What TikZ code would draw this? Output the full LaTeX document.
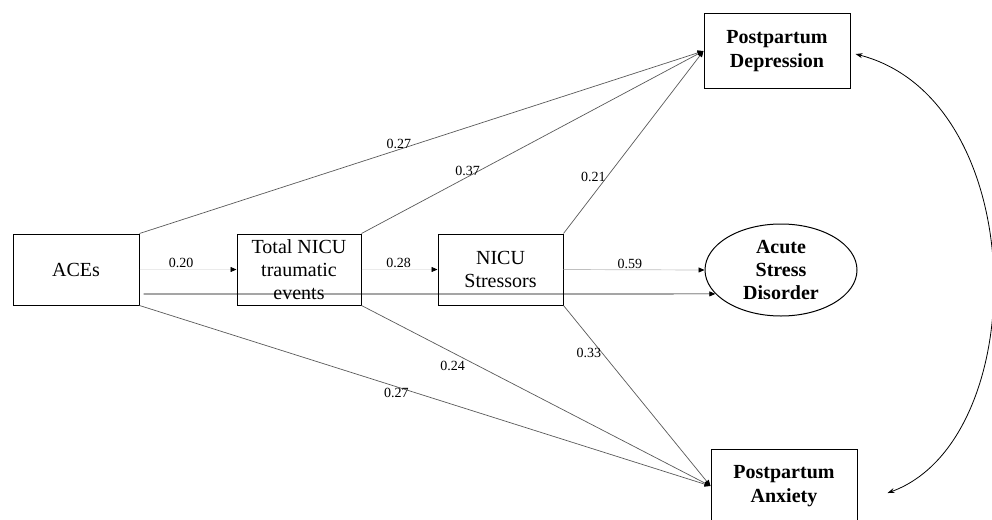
\documentclass[tikz,border=0pt]{standalone}
\usepackage{fontspec}
\setmainfont{Liberation Serif}
\usepackage{tikz}
\usetikzlibrary{shapes.geometric, arrows.meta, positioning, calc}

\tikzset{
    varbox/.style={draw, line width=1pt, minimum width=125pt, minimum height=71pt,
        inner sep=0pt, align=center, font=\fontsize{20}{23}\selectfont},
    outbox/.style={varbox, minimum width=146pt, minimum height=74pt,
        font=\fontsize{20}{24}\selectfont\bfseries},
    effect/.style={draw=black!65, line width=0.7pt, -{Triangle[length=6pt,width=5pt,black]}},
    faint/.style={effect, draw=black!8},
    coef/.style={font=\fontsize{14}{16}\selectfont, inner sep=1pt, text=black},
}

\begin{document}
\begin{tikzpicture}[x=1pt, y=-1pt]
    \useasboundingbox (0,0) rectangle (992,519);

    % predictors
    \node[varbox, minimum width=126pt] (aces) at (76,269.5) {ACEs};
    \node[varbox, minimum width=124pt] (events) at (299,269.5) {Total NICU\\traumatic\\events};
    \node[varbox] (stress) at (500.5,269.5) {NICU\\Stressors};

    % outcomes
    \node[outbox] (ppd) at (777,51) {Postpartum\\Depression};
    \node[draw, ellipse, line width=1pt, minimum width=152pt, minimum height=92pt, inner sep=0pt,
        align=center, font=\fontsize{20}{23}\selectfont\bfseries] (asd) at (781,270) {Acute\\Stress\\Disorder};
    \node[outbox] (ppa) at (784,486) {Postpartum\\Anxiety};

    % paths between predictors
    \draw[faint] (aces.east) -- (events.west) node[coef, pos=.43, above] {0.20};
    \draw[faint] (events.east) -- (stress.west) node[coef, pos=.49, above] {0.28};
    \draw[effect, draw=black!25] (stress.east) -- (asd.180) node[coef, pos=.47, above] {0.59};
    \coordinate (acesout) at ($(aces.east)+(4,24.5)$);
    \draw[effect, draw=black] (acesout) -- (asd.200);

    % paths to postpartum depression
    \draw[effect] (aces.north east) -- (ppd.west) node[coef, pos=.46, above] {0.27};
    \draw[effect] (events.north east) -- (ppd.west) node[coef, pos=.31, above] {0.37};
    \draw[effect] (stress.north east) -- (ppd.west) node[coef, pos=.31, left] {0.21};

    % paths to postpartum anxiety
    \draw[effect] (aces.south east) -- (ppa.west) node[coef, pos=.45, below] {0.27};
    \draw[effect] (events.south east) -- (ppa.west) node[coef, pos=.30, below left] {0.24};
    \draw[effect] (stress.south east) -- (ppa.west) node[coef, pos=.265, left] {0.33};

    % covariance
    \draw[line width=0.8pt, {Stealth[length=7pt,width=5pt]}-{Stealth[length=7pt,width=5pt]}]
        ([xshift=5pt,yshift=-3pt]ppd.east) .. controls (1033,100) and (1033,440) .. ([xshift=30pt,yshift=-7pt]ppa.east);
\end{tikzpicture}
\end{document}
